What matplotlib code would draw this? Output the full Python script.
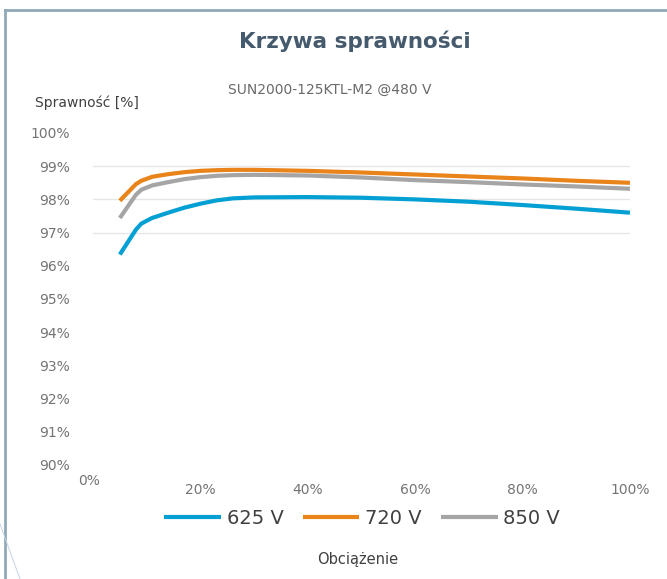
import numpy as np
import matplotlib
matplotlib.use("Agg")
import matplotlib.pyplot as plt
from matplotlib.lines import Line2D

# load in %, efficiency in %
load = [5, 8, 9, 11, 14, 17, 20, 23, 26, 30, 40, 50, 60, 70, 80, 90, 100]
eff_625 = [96.34, 97.09, 97.27, 97.44, 97.60, 97.75, 97.87, 97.97, 98.03, 98.06,
           98.07, 98.05, 98.00, 97.93, 97.83, 97.72, 97.60]
eff_720 = [97.96, 98.46, 98.56, 98.68, 98.76, 98.82, 98.86, 98.88, 98.89, 98.89,
           98.86, 98.81, 98.75, 98.69, 98.63, 98.56, 98.50]
eff_850 = [97.44, 98.14, 98.29, 98.42, 98.52, 98.61, 98.67, 98.71, 98.73, 98.74,
           98.72, 98.66, 98.58, 98.52, 98.45, 98.39, 98.32]
series_names = ["625 V", "720 V", "850 V"]
series_colors = ["#05a0d3", "#e8841a", "#a5a5a5"]

y_ticks = list(range(90, 101))
x_ticks = [20, 40, 60, 80, 100]
grid_levels = [97, 98, 99]

plt.rcParams["font.family"] = ["DejaVu Sans"]

fig = plt.figure(figsize=(6.67, 5.79), dpi=100)
ax = fig.add_axes([0.1394, 0.1969, 0.8051, 0.5734])

for vals, name, col in zip([eff_625, eff_720, eff_850], series_names, series_colors):
    ax.plot(load, vals, color=col, lw=3, label=name, solid_capstyle="butt",
            solid_joinstyle="round")

for g in grid_levels:
    ax.axhline(g, color="#e6e6e6", lw=1, zorder=0)

ax.set_xlim(0, 100)
ax.set_ylim(90, 100)
ax.set_yticks(y_ticks)
ax.set_yticklabels([f"{v}%" for v in y_ticks])
ax.set_xticks(x_ticks)
ax.set_xticklabels([f"{v}%" for v in x_ticks])
ax.tick_params(axis="y", length=0, pad=16.5, labelsize=10, labelcolor="#747474")
ax.tick_params(axis="x", length=0, pad=13, labelsize=10, labelcolor="#747474")
for s in ax.spines.values():
    s.set_visible(False)

fig.text(0.133, 0.169, "0%", fontsize=10, color="#747474", ha="center", va="center")

fig.text(0.532, 0.929, "Krzywa sprawności", fontsize=15.5, fontweight="bold",
         color="#465a6e", ha="center", va="center")
fig.text(0.495, 0.845, "SUN2000-125KTL-M2 @480 V", fontsize=10, color="#6a6a6a",
         ha="center", va="center")
fig.text(0.0525, 0.822, "Sprawność [%]", fontsize=10, color="#404040",
         ha="left", va="center")
fig.text(0.537, 0.0345, "Obciążenie", fontsize=10.5, color="#404040",
         ha="center", va="center")

leg = fig.legend(loc="center", bbox_to_anchor=(0.543, 0.105), ncol=3, frameon=False,
                 fontsize=14, handlelength=2.9, handletextpad=0.3, columnspacing=1.0)
for t in leg.get_texts():
    t.set_color("#404040")

# frame border and decoration
fig.add_artist(Line2D([0.0075, 1.0], [0.983, 0.983], color="#8fa9b8", lw=2))
fig.add_artist(Line2D([0.0075, 0.0075], [0.983, 0.0], color="#8fa9b8", lw=2))
fig.add_artist(Line2D([0.0, 0.03], [0.095, 0.0], color="#c5d3e6", lw=0.7))

fig.savefig("out.png", dpi=100, facecolor="white")
